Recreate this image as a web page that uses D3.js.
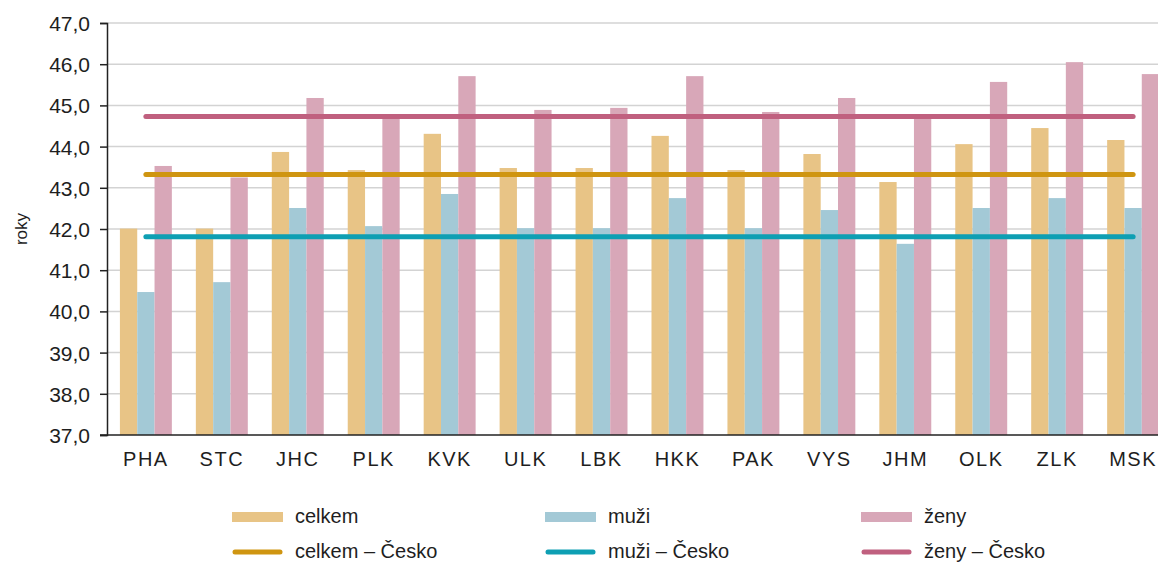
<!DOCTYPE html>
<html>
<head>
<meta charset="utf-8">
<script src="https://cdn.jsdelivr.net/npm/d3@7"></script>
<style>
  html, body { margin: 0; padding: 0; background: #fff; }
  svg { display: block; font-family: "Liberation Sans", Arial, sans-serif; }
</style>
</head>
<body>
<svg id="chart" width="1158" height="562"></svg>
<script>
const categories = ["PHA","STC","JHC","PLK","KVK","ULK","LBK","HKK","PAK","VYS","JHM","OLK","ZLK","MSK"];
const seriesNames = ["celkem","muži","ženy"];
const celkem = [42.01,42.01,43.87,43.43,44.31,43.48,43.48,44.26,43.43,43.82,43.14,44.06,44.45,44.16];
const muzi   = [40.47,40.71,42.51,42.07,42.85,42.02,42.02,42.75,42.02,42.46,41.64,42.51,42.75,42.51];
const zeny   = [43.53,43.25,45.18,44.69,45.71,44.89,44.94,45.71,44.84,45.18,44.69,45.57,46.05,45.76];
const nationalNames = ["celkem – Česko","muži – Česko","ženy – Česko"];
const nationalValues = [43.32, 41.81, 44.73];
const yTicks = [37,38,39,40,41,42,43,44,45,46,47];

(function () {
const barColors = ["#e8c486","#a3c9d6","#d8a7b8"];
const lineColors = ["#cf9511","#0e9fb3","#c0607f"];
const textColor = "#1e1e1e";
const fontFam = "Liberation Sans, Arial, sans-serif";

const svg = d3.select("#chart");
const mLeft = 107, mTop = 23, mBottom = 435;

const x = d3.scaleBand().domain(categories).range([mLeft, 1172]).paddingInner(0.316).paddingOuter(0.17);
const x1 = d3.scaleBand().domain(seriesNames).range([0, x.bandwidth()]).padding(0);
const y = d3.scaleLinear().domain([37, 47]).range([mBottom, mTop]);
const fmt = v => d3.format(".1f")(v).replace(".", ",");

// gridlines
svg.append("g").selectAll("line").data(yTicks.filter(t => t !== 37)).join("line")
  .attr("x1", mLeft).attr("x2", 1158)
  .attr("y1", d => y(d)).attr("y2", d => y(d))
  .attr("stroke", "#d3d3d3").attr("stroke-width", 1.5);

// bars
const seriesData = [celkem, muzi, zeny];
const groups = svg.append("g").selectAll("g").data(categories).join("g")
  .attr("transform", d => `translate(${x(d)},0)`);
groups.selectAll("rect").data((d, i) => seriesNames.map((s, k) => ({s, k, v: seriesData[k][i]}))).join("rect")
  .attr("x", d => x1(d.s))
  .attr("width", x1.bandwidth())
  .attr("y", d => y(d.v))
  .attr("height", d => y(37) - y(d.v))
  .attr("fill", d => barColors[d.k]);

// national lines
const xStart = x(categories[0]) + x.bandwidth() / 2;
const xEnd = x(categories[categories.length - 1]) + x.bandwidth() / 2;
svg.append("g").selectAll("line").data(nationalValues).join("line")
  .attr("x1", xStart).attr("x2", xEnd)
  .attr("y1", d => y(d)).attr("y2", d => y(d))
  .attr("stroke", (d, i) => lineColors[i]).attr("stroke-width", 5)
  .attr("stroke-linecap", "round");

// y axis
const yAxis = svg.append("g").attr("transform", `translate(${mLeft},0)`)
  .call(d3.axisLeft(y).tickValues(yTicks).tickFormat(fmt).tickSize(7).tickPadding(10));
yAxis.select(".domain").attr("stroke", "#222").attr("stroke-width", 1.5);
yAxis.selectAll(".tick line").attr("stroke", "#222").attr("stroke-width", 1.5);
yAxis.selectAll("text").attr("font-size", 21).attr("fill", textColor)
  .attr("font-family", fontFam).attr("dy", "0.36em");

// x axis
const xAxis = svg.append("g").attr("transform", `translate(0,${mBottom})`)
  .call(d3.axisBottom(x).tickSize(0));
xAxis.select(".domain").remove();
svg.append("line").attr("x1", 100).attr("x2", 1158).attr("y1", mBottom).attr("y2", mBottom)
  .attr("stroke", "#222").attr("stroke-width", 1.5);
xAxis.selectAll("text").attr("font-size", 20).attr("fill", textColor)
  .attr("font-family", fontFam).attr("letter-spacing", "1.5px")
  .attr("y", 31).attr("dy", null);

// y label
svg.append("text").attr("transform", `translate(27,${(mTop + mBottom) / 2}) rotate(-90)`)
  .attr("text-anchor", "middle").attr("font-size", 17).attr("fill", textColor).text("roky");

// legend
const legendX = [232, 545, 861];
const leg1 = svg.append("g").selectAll("g").data(seriesNames).join("g")
  .attr("transform", (d, i) => `translate(${legendX[i]},517)`);
leg1.append("rect").attr("x", 0).attr("y", -5).attr("width", 51).attr("height", 10)
  .attr("fill", (d, i) => barColors[i]);
leg1.append("text").attr("x", 63).attr("y", 6).attr("font-size", 20).attr("fill", textColor).text(d => d);

const leg2 = svg.append("g").selectAll("g").data(nationalNames).join("g")
  .attr("transform", (d, i) => `translate(${legendX[i]},552)`);
leg2.append("line").attr("x1", 3).attr("x2", 48).attr("y1", 0).attr("y2", 0)
  .attr("stroke", (d, i) => lineColors[i]).attr("stroke-width", 5).attr("stroke-linecap", "round");
leg2.append("text").attr("x", 63).attr("y", 6).attr("font-size", 20).attr("fill", textColor).text(d => d);
})();
</script>
</body>
</html>
